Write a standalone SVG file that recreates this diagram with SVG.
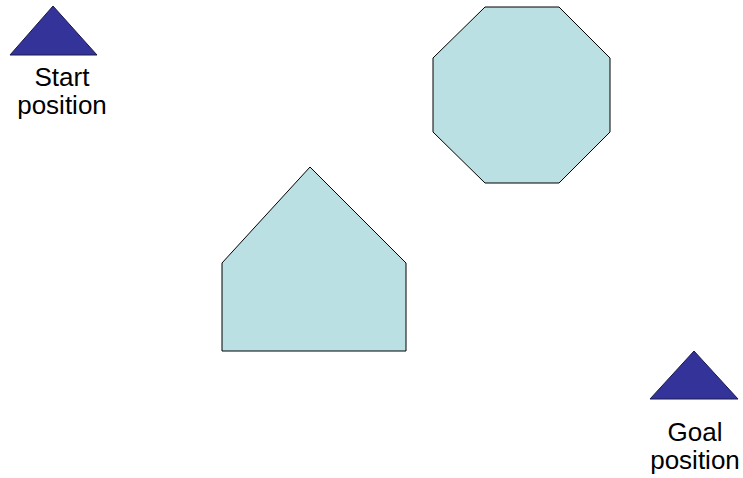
<svg xmlns="http://www.w3.org/2000/svg" width="743" height="478" viewBox="0 0 743 478">
<style>
.tri{fill:#333399;stroke:#1a1a4d;stroke-width:1}
.obs{fill:#BBE0E3;stroke:#000;stroke-width:1}
.lbl{font-family:"Liberation Sans",Arial,sans-serif;font-size:26px;fill:#000;text-anchor:middle}
</style>
<rect width="743" height="478" fill="#fff"/>
<g id="start">
<polygon class="tri" points="53,6 97,55 10,55"/>
<text class="lbl" x="62" y="86">Start</text>
<text class="lbl" x="62" y="114">position</text>
</g>
<g id="octagon">
<polygon class="obs" points="485,7 559,7 610,58 610,132 559,183 485,183 433,132 433,58"/>
</g>
<g id="pentagon">
<polygon class="obs" points="310,167 406,263 406,351 222,351 222,263"/>
</g>
<g id="goal">
<polygon class="tri" points="694,351 738,399 650,399"/>
<text class="lbl" x="695" y="441">Goal</text>
<text class="lbl" x="695" y="469">position</text>
</g>
<g id="connectors"></g>
</svg>
